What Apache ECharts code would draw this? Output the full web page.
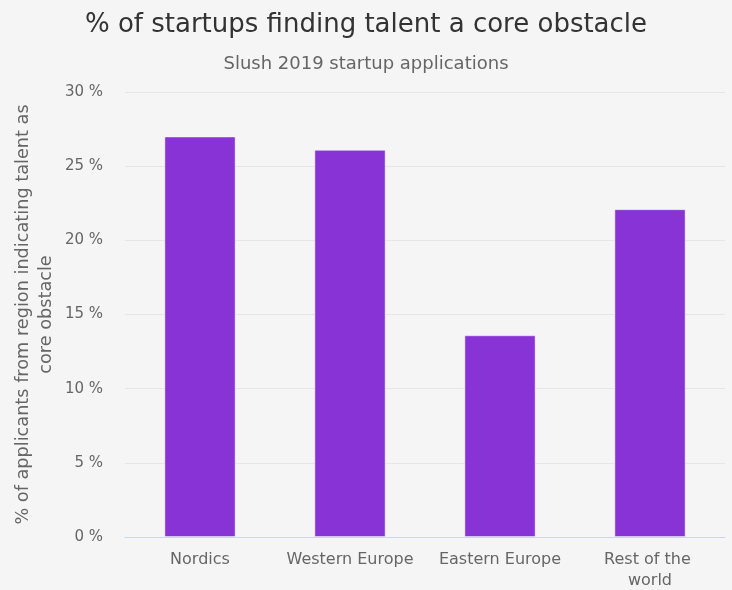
<!DOCTYPE html>
<html>
<head>
<meta charset="utf-8">
<script src="https://cdn.jsdelivr.net/npm/echarts@6/dist/echarts.min.js"></script>
<style>
  html, body { margin: 0; padding: 0; background: #f5f5f5; }
  #chart { width: 732px; height: 590px; }
</style>
</head>
<body>
<div id="chart"></div>
<script>
// Regions and share of applicants naming talent as a core obstacle (%)
const regions = ['Nordics', 'Western Europe', 'Eastern Europe', 'Rest of the world'];
const talentShare = [27.0, 26.1, 13.6, 22.1];
const yTicks = { min: 0, max: 30, interval: 5 };

const FONT = 'DejaVu Sans';
const chart = echarts.init(document.getElementById('chart'));

chart.setOption({
  backgroundColor: '#f5f5f5',
  animation: false,
  title: [
    {
      text: '% of startups finding talent a core obstacle',
      left: 'center',
      top: 7,
      textStyle: { fontFamily: FONT, fontSize: 26, fontWeight: 'normal', color: '#333333' }
    },
    {
      text: 'Slush 2019 startup applications',
      left: 'center',
      top: 50,
      textStyle: { fontFamily: FONT, fontSize: 18, fontWeight: 'normal', color: '#666666' }
    }
  ],
  grid: { left: 125, right: 7, top: 92, bottom: 53, containLabel: false, outerBoundsMode: 'none' },
  xAxis: {
    type: 'category',
    data: regions,
    axisLine: { lineStyle: { color: '#ccd6eb', width: 1 } },
    axisTick: { show: false },
    axisLabel: {
      interval: 0,
      fontFamily: FONT,
      fontSize: 16,
      color: '#666666',
      margin: 12,
      width: 135,
      overflow: 'break',
      lineHeight: 21
    }
  },
  yAxis: {
    type: 'value',
    min: yTicks.min,
    max: yTicks.max,
    interval: yTicks.interval,
    name: '% of applicants from region indicating talent as\ncore obstacle',
    nameLocation: 'middle',
    nameGap: 67,
    nameMoveOverlap: false,
    nameTextStyle: { fontFamily: FONT, fontSize: 17.7, color: '#666666', lineHeight: 23, align: 'center' },
    axisLine: { show: false },
    axisTick: { show: false },
    splitLine: { lineStyle: { color: '#e6e6e6', width: 1 } },
    axisLabel: {
      fontFamily: FONT,
      fontSize: 15,
      color: '#666666',
      margin: 22,
      formatter: v => v + ' %'
    }
  },
  series: [{
    type: 'bar',
    data: talentShare,
    barWidth: '47.5%',
    itemStyle: {
      color: '#8833d5',
      borderColor: 'rgba(255,255,255,0.45)',
      borderWidth: 1
    }
  }]
});
</script>
</body>
</html>
